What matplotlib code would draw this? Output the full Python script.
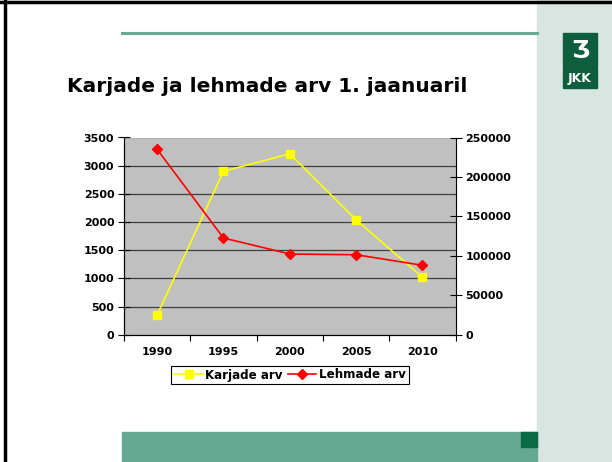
import matplotlib
matplotlib.use("Agg")
import matplotlib.pyplot as plt
from matplotlib.patches import Rectangle
from matplotlib.lines import Line2D

years = ["1990", "1995", "2000", "2005", "2010"]
karjade = [350, 2900, 3210, 2040, 1020]
lehmade = [235000, 122600, 102300, 101400, 88000]
left_ticks = [0, 500, 1000, 1500, 2000, 2500, 3000, 3500]
right_ticks = [0, 50000, 100000, 150000, 200000, 250000]
title = "Karjade ja lehmade arv 1. jaanuaril"

plt.rcParams['font.family'] = ['DejaVu Sans']

W, H = 612, 462
fig = plt.figure(figsize=(W / 100, H / 100), dpi=100)
fig.patch.set_facecolor("white")

def px(x0, y0, x1, y1):
    return [x0 / W, 1 - y1 / H, (x1 - x0) / W, (y1 - y0) / H]

# slide decoration
fig.patches.append(Rectangle((537 / W, 0), (W - 537) / W, 1, transform=fig.transFigure,
                             color="#d9e5e0", zorder=0))
fig.lines.append(Line2D([122 / W, 537 / W], [1 - 33 / H, 1 - 33 / H], transform=fig.transFigure,
                        color="#6aa895", lw=2.2))
fig.patches.append(Rectangle((122 / W, 0), (537 - 122) / W, (H - 432) / H, transform=fig.transFigure,
                             color="#67a893", zorder=1))
fig.patches.append(Rectangle((521 / W, 1 - 447 / H), 16 / W, 15 / H, transform=fig.transFigure,
                             color="#0a6b45", zorder=2))
# logo
fig.patches.append(Rectangle((563 / W, 1 - 67 / H), 34 / W, 34 / H, transform=fig.transFigure,
                             color="#0d5e3c", zorder=2))
fig.patches.append(Rectangle((563 / W, 1 - 88 / H), 34 / W, 20 / H, transform=fig.transFigure,
                             color="#0d5e3c", zorder=2))
fig.text(580 / W, 1 - 51 / H, "Ʒ", color="white", fontsize=17, fontweight="bold",
         ha="center", va="center", zorder=3)
fig.text(580 / W, 1 - 78.5 / H, "JKK", color="white", fontsize=9, fontweight="bold",
         ha="center", va="center", zorder=3)
# frame lines
fig.lines.append(Line2D([0, 1], [1 - 1.5 / H, 1 - 1.5 / H], transform=fig.transFigure, color="black", lw=2.5))
fig.lines.append(Line2D([5 / W, 5 / W], [0, 1], transform=fig.transFigure, color="black", lw=2.5))

fig.text(67 / W, 1 - 86 / H, title, fontsize=14.5, fontweight="bold", ha="left", va="center")

ax = fig.add_axes(px(124, 137.5, 455.5, 334.7))
ax.set_facecolor("#c0c0c0")
x = list(range(len(years)))
ax.set_xlim(-0.5, len(years) - 0.5)
ax.set_ylim(0, 3500)
ax.set_yticks(left_ticks)
for v in left_ticks[1:]:
    ax.axhline(v, color="#404040", lw=0.9, zorder=1)
ax.plot(x, karjade, color="#ffff00", marker="s", markersize=6, lw=1.2, zorder=3,
        label="Karjade arv")
ax.set_xticks([i - 0.5 for i in range(len(years) + 1)])
ax.set_xticklabels([])
ax.set_xticks(x, minor=True)
ax.set_xticklabels(years, minor=True, fontsize=8, fontweight="bold")
ax.tick_params(axis="x", which="minor", length=0, pad=9)
ax.tick_params(axis="x", which="major", length=4, direction="out")
ax.tick_params(axis="y", length=8, direction="inout", labelsize=8, pad=3)
for lab in ax.get_yticklabels():
    lab.set_fontweight("bold")
for s in ["top", "right"]:
    ax.spines[s].set_visible(False)

ax2 = ax.twinx()
ax2.set_ylim(0, 250000)
ax2.set_yticks(right_ticks)
ax2.plot(x, lehmade, color="#ff0000", marker="D", markersize=5, lw=1.2, zorder=3,
         label="Lehmade arv")
ax2.tick_params(axis="y", length=8, direction="inout", labelsize=8, pad=3)
for lab in ax2.get_yticklabels():
    lab.set_fontweight("bold")
ax2.spines["top"].set_visible(False)

h1, l1 = ax.get_legend_handles_labels()
h2, l2 = ax2.get_legend_handles_labels()
leg = fig.legend(h1 + h2, l1 + l2, loc="center", bbox_to_anchor=(290 / W, 1 - 375 / H), ncol=2,
                 fancybox=False, edgecolor="black", framealpha=1, handlelength=2.4,
                 columnspacing=0.4, handletextpad=0.2, borderpad=0.25,
                 prop={"weight": "bold", "size": 8.6})
leg.get_frame().set_linewidth(0.8)

fig.savefig("out.png", dpi=100, facecolor="white")
